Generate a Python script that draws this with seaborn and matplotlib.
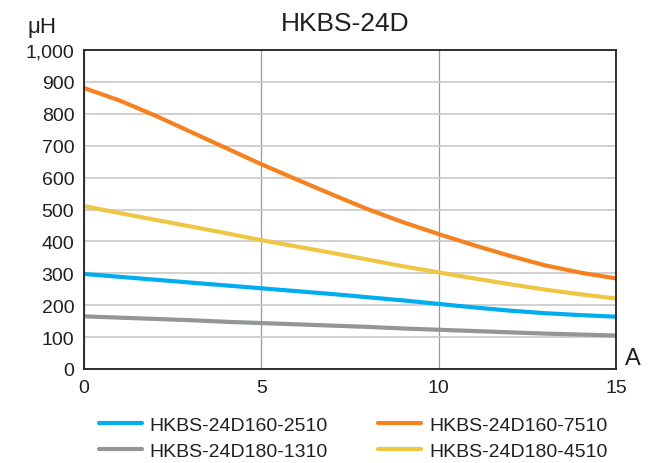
import pandas as pd
import matplotlib.pyplot as plt
import seaborn as sns

# Current (A) vs inductance (uH)
current = list(range(0, 16))
l_2510 = [298, 289, 280, 271, 262, 253, 244, 235, 225, 215, 204, 193, 183, 175, 169, 164]
l_7510 = [881, 842, 795, 744, 693, 642, 594, 547, 501, 460, 423, 388, 355, 325, 302, 284]
l_1310 = [165, 161, 157, 153, 148, 144, 140, 136, 132, 127, 123, 119, 115, 111, 108, 105]
l_4510 = [511, 489, 468, 447, 426, 404, 384, 364, 343, 322, 303, 284, 266, 249, 234, 221]

series_names = ['HKBS-24D160-2510', 'HKBS-24D180-1310', 'HKBS-24D160-7510', 'HKBS-24D180-4510']
colors = ['#00AEEF', '#939598', '#F58220', '#EEC643']

rows = []
for name, vals in zip(series_names, [l_2510, l_1310, l_7510, l_4510]):
    for x, y in zip(current, vals):
        rows.append({'A': x, 'uH': y, 'model': name})
df = pd.DataFrame(rows)

sns.set_style('white')
plt.rcParams['font.family'] = ['Liberation Sans', 'DejaVu Sans']

fig = plt.figure(figsize=(6.53, 4.64), dpi=100)
ax = fig.add_axes([0.1286, 0.2026, 0.8147, 0.6874])

sns.lineplot(data=df, x='A', y='uH', hue='model', hue_order=series_names,
             palette=colors, linewidth=3, ax=ax, legend=True)

ax.set_xlim(0, 15)
ax.set_ylim(0, 1000)
ax.set_xticks([0, 5, 10, 15])
ax.set_yticks(range(0, 1001, 100))
ax.set_yticklabels([f'{v:,}' for v in range(0, 1001, 100)])
ax.tick_params(axis='both', length=0, labelsize=14, colors='#231f20', pad=7)
ax.set_xlabel('')
ax.set_ylabel('')

ax.yaxis.grid(True, color='#c8c8c8', linewidth=1.2)
ax.xaxis.grid(True, color='#999999', linewidth=0.9)
ax.set_axisbelow(True)
for s in ax.spines.values():
    s.set_color('#231f20')
    s.set_linewidth(1.3)

fig.text(0.528, 0.948, 'HKBS-24D', ha='center', va='center', fontsize=19, color='#231f20')
ax.text(-0.078, 1.075, 'μH', transform=ax.transAxes, ha='center', va='center', fontsize=16, color='#231f20')
ax.text(1.016, 0.0, 'A', transform=ax.transAxes, ha='left', va='bottom', fontsize=17, color='#231f20')

ax.legend(loc='center', bbox_to_anchor=(0.541, 0.054), bbox_transform=fig.transFigure,
          ncol=2, frameon=False, fontsize=14, handlelength=2.2, handletextpad=0.4,
          columnspacing=2.6, labelspacing=0.45, labelcolor='#231f20')

fig.savefig('out.png', dpi=100)
